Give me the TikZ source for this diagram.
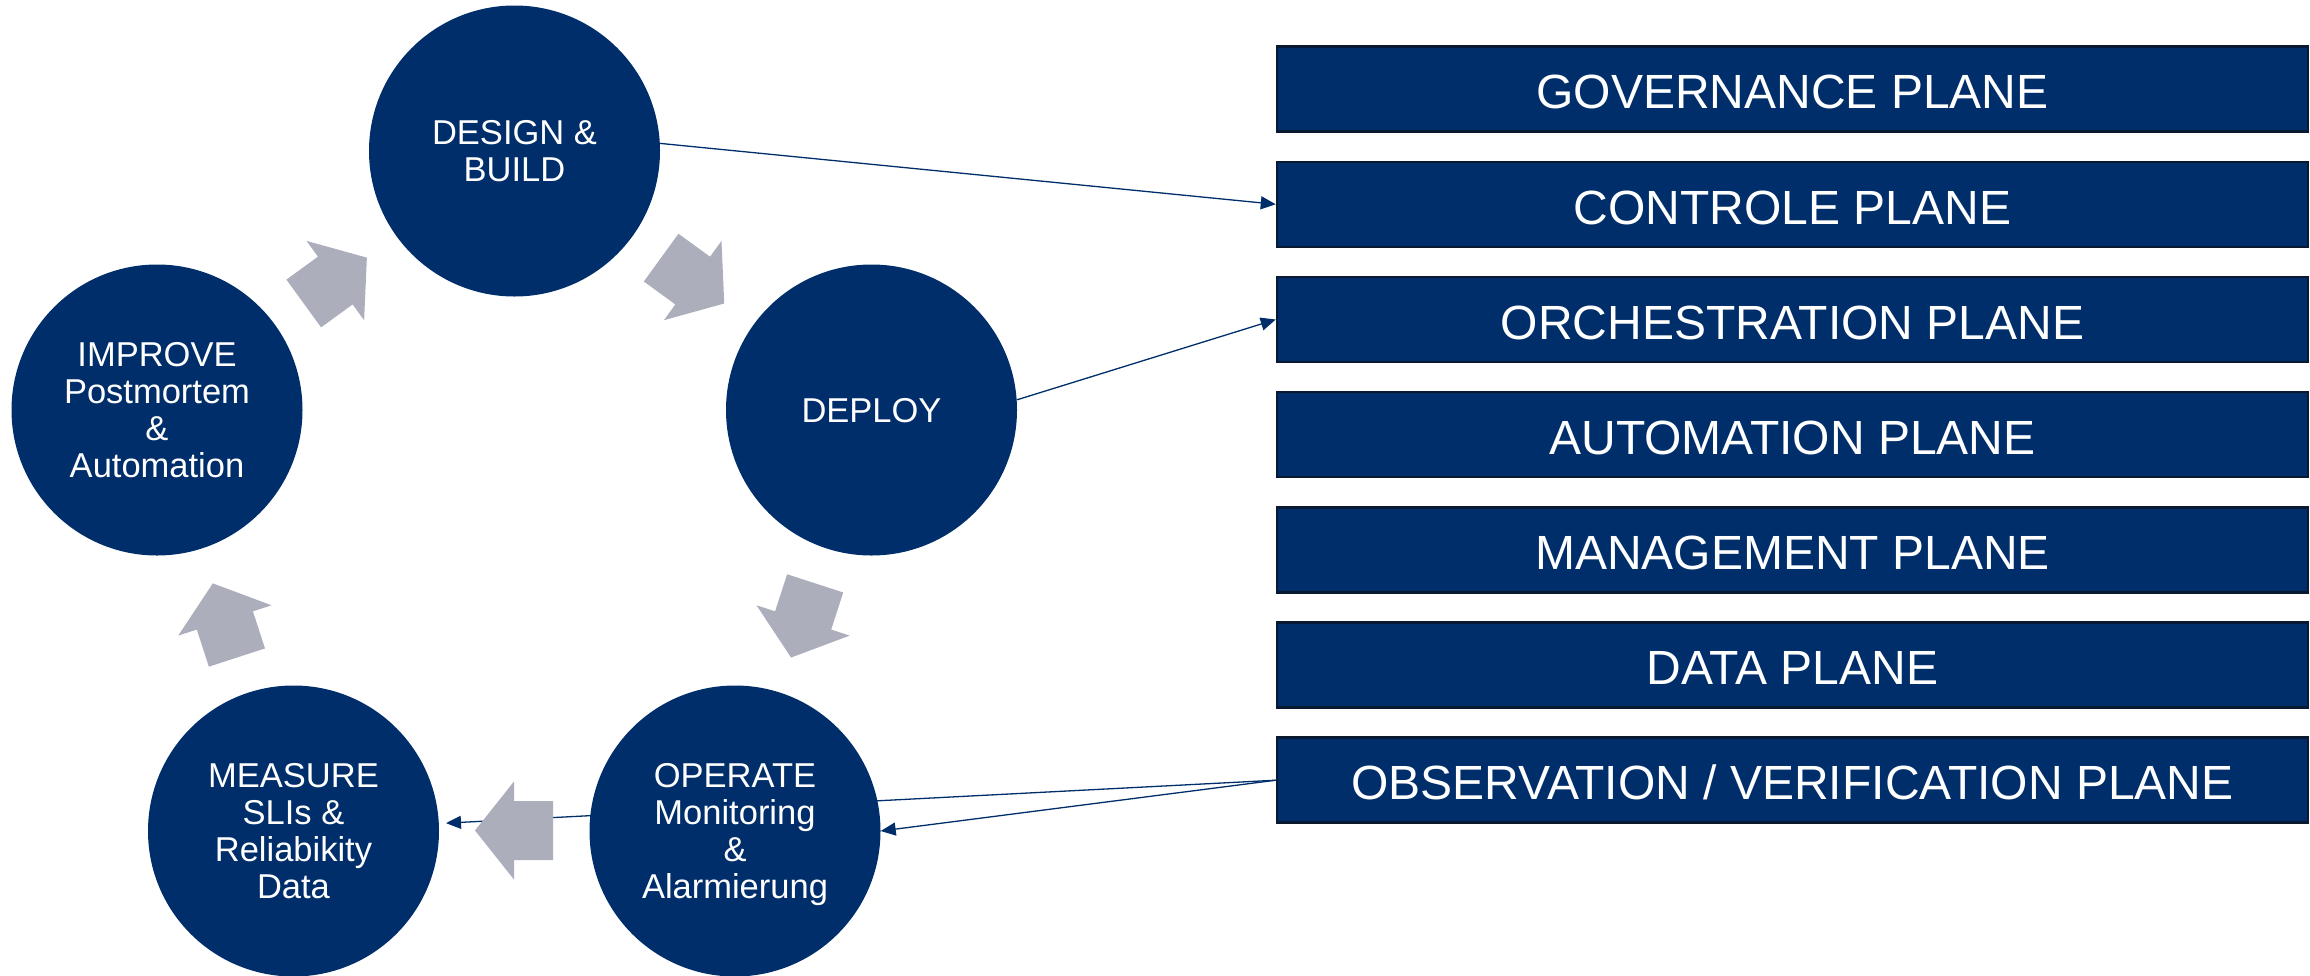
\documentclass[tikz,border=0pt]{standalone}
\usepackage{fontspec}
\setmainfont{Liberation Sans}
\usetikzlibrary{arrows.meta,backgrounds}
\definecolor{navy}{RGB}{0,46,106}
\definecolor{arrowgray}{RGB}{172,174,187}
\definecolor{rimdark}{RGB}{10,25,50}
\begin{document}
\begin{tikzpicture}[x=1pt,y=-1pt,
  stage/.style={circle, fill=navy, text=white, minimum size=291pt, inner sep=0pt,
    align=center, font=\fontsize{34.5}{37}\selectfont, text depth=0pt},
  plane/.style={rectangle, fill=navy, draw=rimdark, line width=2.5pt, text=white,
    minimum width=1031pt, minimum height=85pt, inner sep=0pt,
    text height=39.5pt, text depth=0pt,
    font=\fontsize{48}{50}\selectfont},
  link/.style={draw=navy, line width=1.3pt, -{Triangle[length=15pt,width=13pt]}},
  cyclearrow/.style={fill=arrowgray}]
\useasboundingbox (0,0) rectangle (2310,975);

% stages
\node[stage] (design)  at (514.5,151) {DESIGN \&\\BUILD};
\node[stage] (deploy)  at (871.5,410) {DEPLOY};
\node[stage] (operate) at (735,831)   {OPERATE\\Monitoring\\\&\\Alarmierung};
\node[stage] (measure) at (293.5,831) {MEASURE\\SLIs \&\\Reliabikity\\Data};
\node[stage] (improve) at (157,410)   {IMPROVE\\Postmortem\\\&\\Automation};

% planes
\node[plane] (gov)      at (1792.5,89)    {GOVERNANCE PLANE};
\node[plane] (controle) at (1792.5,204.3) {CONTROLE PLANE};
\node[plane] (orch)     at (1792.5,319.5) {ORCHESTRATION PLANE};
\node[plane] (auto)     at (1792.5,434.7) {AUTOMATION PLANE};
\node[plane] (mgmt)     at (1792.5,550)   {MANAGEMENT PLANE};
\node[plane] (data)     at (1792.5,665)   {DATA PLANE};
\node[plane] (obs)      at (1792.5,780.2) {OBSERVATION / VERIFICATION PLANE};

% connectors
\begin{pgfonlayer}{background}
\draw[link] (design.3) -- (controle.west);
\draw[link] (deploy.4) -- (orch.west);
\draw[link] (obs.west) -- (operate.east);
\draw[link, shorten >=7pt] (obs.west) -- (measure);
\end{pgfonlayer}

% cycle arrows
\foreach \t in {-126,-54,18,90,162}{
  \fill[cyclearrow, shift={({514+304*cos(\t)},{526.5+304*sin(\t)})}, rotate={-(\t+90)}]
    (-39,-29.5) -- (0,-29.5) -- (0,-49) -- (39,0) -- (0,49) -- (0,29.5) -- (-39,29.5) -- cycle;
}
\end{tikzpicture}
\end{document}
